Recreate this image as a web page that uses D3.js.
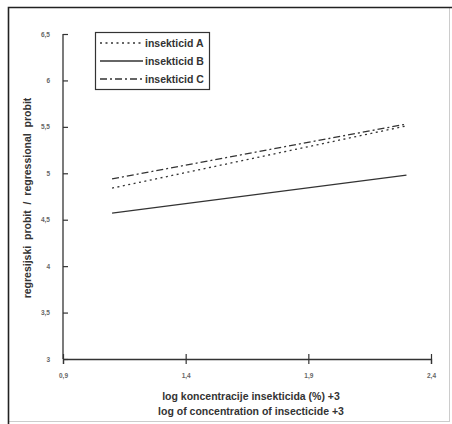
<!DOCTYPE html>
<html>
<head>
    <script src="https://cdnjs.cloudflare.com/ajax/libs/d3/7.8.5/d3.min.js"></script>
    <style>
        body { margin: 0; background: #fff; font-family: "Liberation Sans", Arial, sans-serif; }
        .tick-label { font-size: 6.5px; font-weight: bold; fill: #666; }
        .legend-label { font-size: 10.5px; font-weight: bold; fill: #333; }
        .axis-title { font-size: 10.5px; font-weight: bold; fill: #333; white-space: pre; }
    </style>
</head>
<body>
    <div id="chart"></div>
    <script>
        // data
        const xTicks = [0.9, 1.4, 1.9, 2.4];
        const yTicks = [3, 3.5, 4, 4.5, 5, 5.5, 6, 6.5];
        const seriesNames = ["insekticid A", "insekticid B", "insekticid C"];
        const xValues = [1.1, 2.3];
        const valuesA = [4.84, 5.51];
        const valuesB = [4.57, 4.98];
        const valuesC = [4.94, 5.53];

        const W = 452, H = 424;
        const margin = { top: 34, right: 21, bottom: 65, left: 63 };

        const svg = d3.select("#chart").append("svg")
            .attr("width", W).attr("height", H);

        // outer frame
        svg.append("rect")
            .attr("x", 8.5).attr("y", 7.5)
            .attr("width", 441).attr("height", 414)
            .attr("fill", "none").attr("stroke", "#ccc").attr("stroke-width", 1);
        svg.append("path")
            .attr("d", "M8.5,424 V7.5 H452")
            .attr("fill", "none").attr("stroke", "#222").attr("stroke-width", 1.6);

        const x = d3.scaleLinear().domain([0.9, 2.4]).range([margin.left, W - margin.right]);
        const y = d3.scaleLinear().domain([3, 6.5]).range([H - margin.bottom, margin.top]);

        const comma = f => d => d3.format(f)(d).replace(".", ",");

        // x axis
        const xAxis = svg.append("g")
            .attr("transform", `translate(0,${y(3)})`)
            .call(d3.axisBottom(x).tickValues(xTicks).tickSize(5).tickFormat(comma(".1f")));
        xAxis.select(".domain").attr("stroke", "#333").attr("stroke-width", 1.3);
        xAxis.selectAll(".tick line").attr("y1", -5).attr("stroke", "#333").attr("stroke-width", 1.2);
        xAxis.selectAll(".tick text").attr("class", "tick-label").attr("y", 14)
            .attr("fill", "#666").attr("font-family", null).attr("font-size", null);

        // y axis
        const yAxis = svg.append("g")
            .attr("transform", `translate(${x(0.9)},0)`)
            .call(d3.axisLeft(y).tickValues(yTicks).tickSize(5).tickFormat(comma("~g")));
        yAxis.select(".domain").attr("stroke", "#333").attr("stroke-width", 1.3)
            .attr("d", `M0,${y(3)}V${y(6.5)}`);
        yAxis.selectAll(".tick line").attr("x2", 5).attr("stroke", "#333").attr("stroke-width", 1.2);
        yAxis.selectAll(".tick text").attr("class", "tick-label").attr("x", -13)
            .attr("fill", "#666").attr("font-family", null).attr("font-size", null);

        // series lines
        const styles = [
            { values: valuesA, dash: "2,3.5" },
            { values: valuesB, dash: null },
            { values: valuesC, dash: "7,3,2,3" }
        ];
        const line = d3.line().x(d => x(d[0])).y(d => y(d[1]));
        styles.forEach(s => {
            svg.append("path")
                .datum(xValues.map((xv, i) => [xv, s.values[i]]))
                .attr("d", line)
                .attr("fill", "none")
                .attr("stroke", "#333")
                .attr("stroke-width", 1.3)
                .attr("stroke-dasharray", s.dash);
        });

        // legend
        const legend = svg.append("g").attr("transform", "translate(95,32)");
        legend.append("rect")
            .attr("x", 0.5).attr("y", 0.5).attr("width", 114).attr("height", 57)
            .attr("fill", "#fff").attr("stroke", "#333").attr("stroke-width", 1.2);
        seriesNames.forEach((name, i) => {
            const ly = 11 + i * 18;
            legend.append("line")
                .attr("x1", 5).attr("x2", 48).attr("y1", ly).attr("y2", ly)
                .attr("stroke", "#333").attr("stroke-width", 1.3)
                .attr("stroke-dasharray", styles[i].dash);
            legend.append("text")
                .attr("class", "legend-label")
                .attr("x", 50).attr("y", ly + 3.5)
                .text(name);
        });

        // axis titles
        svg.append("text").attr("class", "axis-title")
            .attr("x", 251).attr("y", 400).attr("text-anchor", "middle")
            .text("log koncentracije insekticida (%) +3");
        svg.append("text").attr("class", "axis-title")
            .attr("x", 251).attr("y", 415).attr("text-anchor", "middle")
            .text("log of concentration of insecticide +3");
        svg.append("text").attr("class", "axis-title")
            .attr("transform", "translate(31,198) rotate(-90)")
            .attr("text-anchor", "middle")
            .text("regresijski  probit  /  regressional  probit");
    </script>
</body>
</html>
